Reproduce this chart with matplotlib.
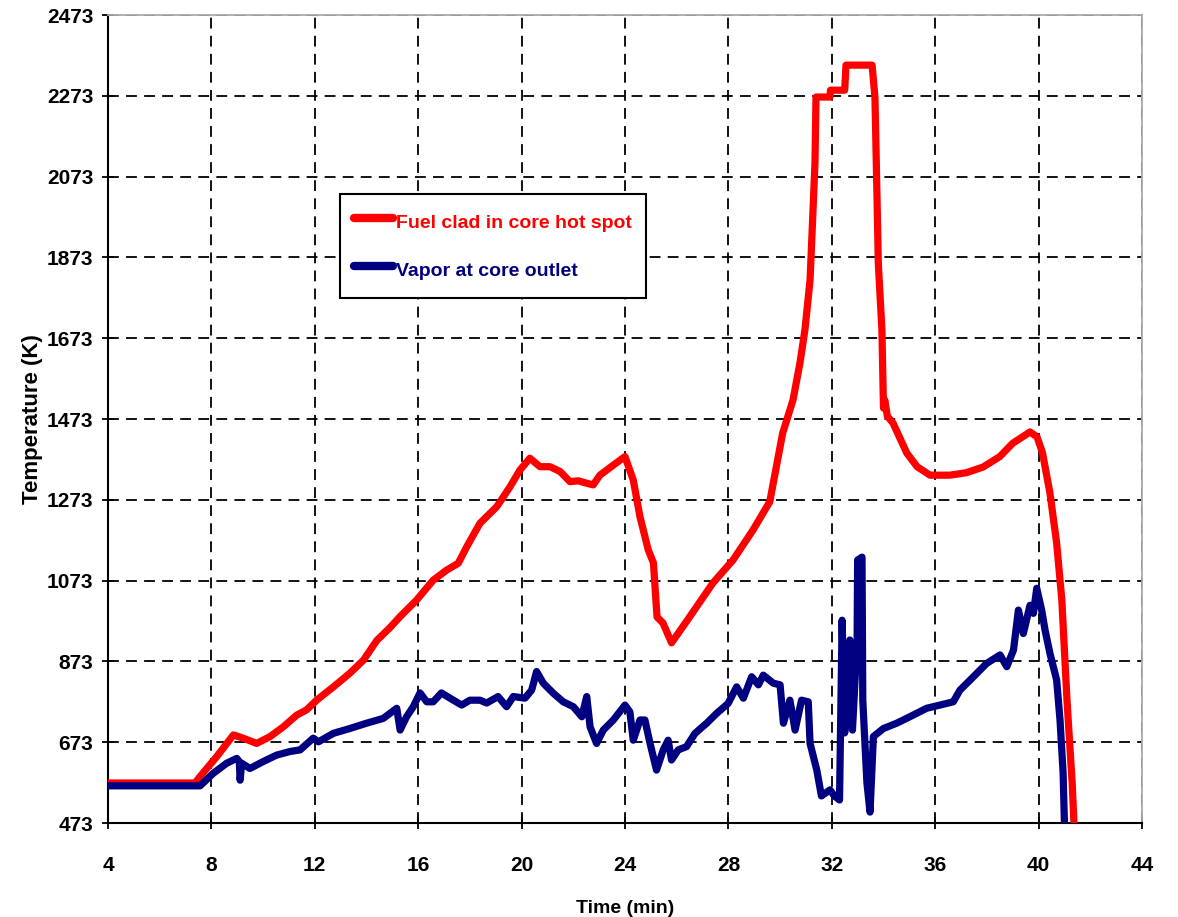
import matplotlib
matplotlib.use("Agg")
import matplotlib.pyplot as plt

plt.rcParams['font.family'] = ['Liberation Sans', 'DejaVu Sans']

# fuel clad temperature at the core hot spot
clad_t = [4, 7.37, 7.56, 8.2, 8.85, 9.23, 9.75, 10.27, 10.78, 11.3, 11.68, 12.07, 12.72,
          13.36, 13.88, 14.4, 14.9, 15.3, 15.94, 16.58, 17.1, 17.55, 17.88, 18.39, 19.04,
          19.55, 19.94, 20.32, 20.71, 21.1, 21.49, 21.87, 22.2, 22.52, 22.77, 23.03,
          23.55, 24.0, 24.32, 24.58, 24.9, 25.1, 25.24, 25.47, 25.8, 26.5, 27.4, 28.18,
          28.95, 29.6, 30.1, 30.5, 30.77, 30.96, 31.16, 31.27, 31.35, 31.39, 31.93,
          31.95, 32.5, 32.55, 33.56, 33.67, 33.75, 33.8, 33.94, 34.0, 34.05, 34.15,
          34.37, 34.9, 35.3, 35.8, 36.57, 37.2, 37.85, 38.5, 39.0, 39.67, 39.94, 40.15,
          40.44, 40.7, 40.9, 41.1, 41.3, 41.37]
clad_T = [572, 572, 588, 637, 691, 683, 670, 687, 711, 740, 753, 777, 810,
          844, 876, 925, 956, 984, 1025, 1074, 1099, 1116, 1157, 1215, 1256,
          1305, 1347, 1376, 1355, 1355, 1343, 1318, 1320, 1314, 1310, 1334,
          1359, 1380, 1322, 1231, 1149, 1117, 983, 968, 919, 983, 1067, 1124,
          1198, 1268, 1438, 1520, 1612, 1693, 1817, 1983, 2107, 2270, 2270,
          2287, 2287, 2349, 2349, 2270, 2022, 1859, 1693, 1500, 1520, 1480,
          1463, 1389, 1355, 1334, 1334, 1340, 1354, 1380, 1413, 1441, 1429, 1390,
          1290, 1166, 1025, 777, 572, 473]

# vapor temperature at the core outlet
vap_t = [4, 7.56, 8.07, 8.59, 8.98, 9.08, 9.11, 9.17, 9.49, 10.0, 10.52, 11.04, 11.43,
         11.94, 12.14, 12.72, 13.36, 14.0, 14.65, 15.17, 15.3, 15.55, 15.81, 16.07,
         16.33, 16.58, 16.9, 17.23, 17.68, 18.0, 18.39, 18.65, 19.09, 19.42, 19.68,
         20.13, 20.39, 20.58, 20.84, 21.23, 21.61, 22.0, 22.33, 22.52, 22.65, 22.9,
         23.16, 23.55, 24.0, 24.19, 24.32, 24.58, 24.77, 24.97, 25.22, 25.48, 25.67,
         25.8, 26.06, 26.38, 26.71, 27.16, 27.54, 27.99, 28.32, 28.58, 28.9, 29.16,
         29.35, 29.74, 30.0, 30.13, 30.38, 30.58, 30.83, 31.09, 31.16, 31.42, 31.6,
         31.93, 32.1, 32.3, 32.4, 32.5, 32.63, 32.7, 32.8, 32.98, 33.0, 33.17, 33.2,
         33.36, 33.48, 33.61, 34.0, 34.51, 35.02, 35.67, 36.19, 36.7, 36.96, 37.48,
         37.99, 38.51, 38.77, 39.03, 39.22, 39.41, 39.67, 39.8, 39.93, 40.12, 40.25,
         40.44, 40.7, 40.83, 40.95, 41.0]
vap_T = [565, 565, 596, 621, 633, 625, 579, 621, 608, 625, 641, 650, 654,
         683, 674, 695, 707, 720, 732, 757, 703, 736, 761, 795,
         773, 773, 795, 782, 765, 777, 777, 770, 786, 761, 786,
         782, 802, 848, 819, 794, 773, 761, 736, 786, 711, 670,
         703, 728, 765, 748, 678, 728, 728, 670, 604, 654, 678,
         629, 654, 662, 695, 720, 744, 769, 810, 782, 835, 815,
         839, 819, 815, 720, 777, 703, 777, 773, 670, 604, 540,
         555, 540, 530, 975, 696, 876, 926, 703, 926, 1124, 1131, 777,
         572, 500, 687, 707, 720, 736, 757, 765, 773, 802, 835,
         868, 889, 860, 901, 1000, 942, 1012, 992, 1054, 1000, 951,
         893, 827, 728, 597, 473]

x_ticks = list(range(4, 45, 4))
y_ticks = list(range(473, 2474, 200))

fig = plt.figure(figsize=(11.78, 9.17), dpi=100)
ax = fig.add_axes([0.0917, 0.1025, 0.8777, 0.8811])

ax.plot(clad_t, clad_T, color="#ff0000", lw=5.2, label="Fuel clad in core hot spot",
        zorder=3)
ax.plot(vap_t, vap_T, color="#000080", lw=5.2, label="Vapor at core outlet", zorder=3)

ax.set_xlim(4, 44)
ax.set_ylim(473, 2473)
ax.set_xticks(x_ticks)
ax.set_yticks(y_ticks)
ax.grid(True, color="black", ls=(0, (6, 4)), lw=1.3, zorder=1)
ax.set_axisbelow(True)

for lab in ax.get_xticklabels() + ax.get_yticklabels():
    lab.set_fontweight("bold")
    lab.set_fontsize(15)
ax.tick_params(direction="inout", length=9, width=1.3)
ax.tick_params(axis="x", pad=19)
ax.tick_params(axis="y", pad=6)

ax.spines["left"].set_linewidth(1.5)
ax.spines["bottom"].set_linewidth(1.5)
for s in ("top", "right"):
    ax.spines[s].set_color("#aaaaaa")
    ax.spines[s].set_linewidth(1.3)

ax.set_xlabel("Time (min)", fontsize=14, fontweight="bold", labelpad=18)
ax.set_ylabel("Temperature (K)", fontsize=16, fontweight="bold", labelpad=3)

leg = ax.legend(loc="upper left", bbox_to_anchor=(0.2244, 0.7785), borderaxespad=0,
                fancybox=False, framealpha=1, edgecolor="black", handlelength=2.0,
                handleheight=1.875, borderpad=0.7, labelspacing=1.0,
                handletextpad=0.2, prop={"size": 14, "weight": "bold"})
leg.get_frame().set_linewidth(1.5)
for txt, ln in zip(leg.get_texts(), leg.get_lines()):
    txt.set_color(ln.get_color())
    ln.set_solid_capstyle("round")
    ln.set_linewidth(6)

fig.savefig("out.png", dpi=100)
